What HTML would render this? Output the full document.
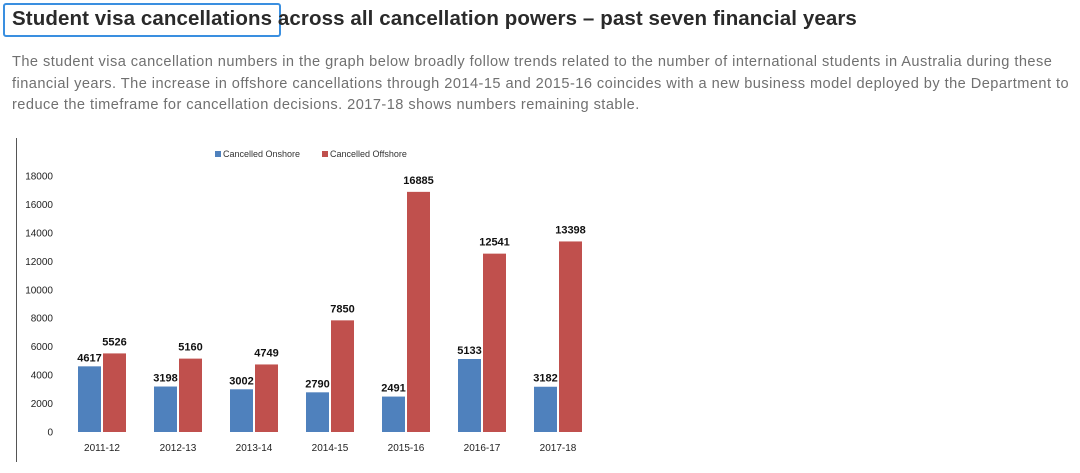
<!DOCTYPE html>
<html><head><meta charset="utf-8"><style>
body{margin:0;width:1080px;height:473px;background:#fff;overflow:hidden;font-family:"Liberation Sans",sans-serif;position:relative}
#title{position:absolute;left:12px;top:7px;font-size:20.5px;color:#2a2a2a;white-space:nowrap;margin:0;font-weight:bold;letter-spacing:0.1px}
#hl{position:absolute;left:3px;top:3px;width:278px;height:34px;border:2px solid #3a8fe0;border-radius:3px;box-sizing:border-box}
#para{position:absolute;left:12px;top:52px;width:1068px;font-size:14.6px;line-height:21.5px;color:#707070;margin:0;letter-spacing:0.45px}
svg{position:absolute;left:0;top:0}
</style></head><body>
<div id="hl"></div>
<h2 id="title">Student visa cancellations across all cancellation powers – past seven financial years</h2>
<p id="para">The student visa cancellation numbers in the graph below broadly follow trends related to the number of international students in Australia during these financial years. The increase in offshore cancellations through 2014-15 and 2015-16 coincides with a new business model deployed by the Department to reduce the timeframe for cancellation decisions. 2017-18 shows numbers remaining stable.</p>
<svg id="chart" width="1080" height="473"></svg>
<script>
const categories=["2011-12","2012-13","2013-14","2014-15","2015-16","2016-17","2017-18"];
const onshore=[4617,3198,3002,2790,2491,5133,3182];
const offshore=[5526,5160,4749,7850,16885,12541,13398];
const ticks=[0,2000,4000,6000,8000,10000,12000,14000,16000,18000];
const NS="http://www.w3.org/2000/svg";
const svg=document.getElementById('chart');
const y0=432,yMax=18000,yH=256;
const y=v=>y0-v/yMax*yH;
const xc=i=>102+i*76;
function mk(t,a,txt){const e=document.createElementNS(NS,t);for(const k in a)e.setAttribute(k,a[k]);if(txt!==undefined)e.textContent=txt;svg.appendChild(e);return e;}
const ax=mk('line',{x1:16.5,y1:138,x2:16.5,y2:462,stroke:'#555','stroke-width':1});


ticks.forEach(t=>{const e=mk('text',{x:53,y:y(t)+3.5,'text-anchor':'end','font-size':10,fill:'#222','font-family':'Liberation Sans, sans-serif'},t);

});
categories.forEach((c,i)=>{
const cx=xc(i);
const b1=mk('rect',{x:cx-24,y:y(onshore[i]),width:23,height:y0-y(onshore[i]),fill:'#4f81bd'});


const b2=mk('rect',{x:cx+1,y:y(offshore[i]),width:23,height:y0-y(offshore[i]),fill:'#c0504d'});


const l1=mk('text',{x:cx-12.5,y:y(onshore[i])-5,'text-anchor':'middle','font-size':11,'font-weight':'bold',fill:'#111'},onshore[i]);


const l2=mk('text',{x:cx+12.5,y:y(offshore[i])-8,'text-anchor':'middle','font-size':11,'font-weight':'bold',fill:'#111'},offshore[i]);


const xl=mk('text',{x:cx,y:451,'text-anchor':'middle','font-size':10,fill:'#222'},c);


});
const lg1=mk('rect',{x:215,y:151,width:6,height:6,fill:'#4f81bd'});


const lt1=mk('text',{x:223,y:157,'font-size':9,fill:'#333'},'Cancelled Onshore');


const lg2=mk('rect',{x:322,y:151,width:6,height:6,fill:'#c0504d'});


const lt2=mk('text',{x:330,y:157,'font-size':9,fill:'#333'},'Cancelled Offshore');


</script>
</body></html>
